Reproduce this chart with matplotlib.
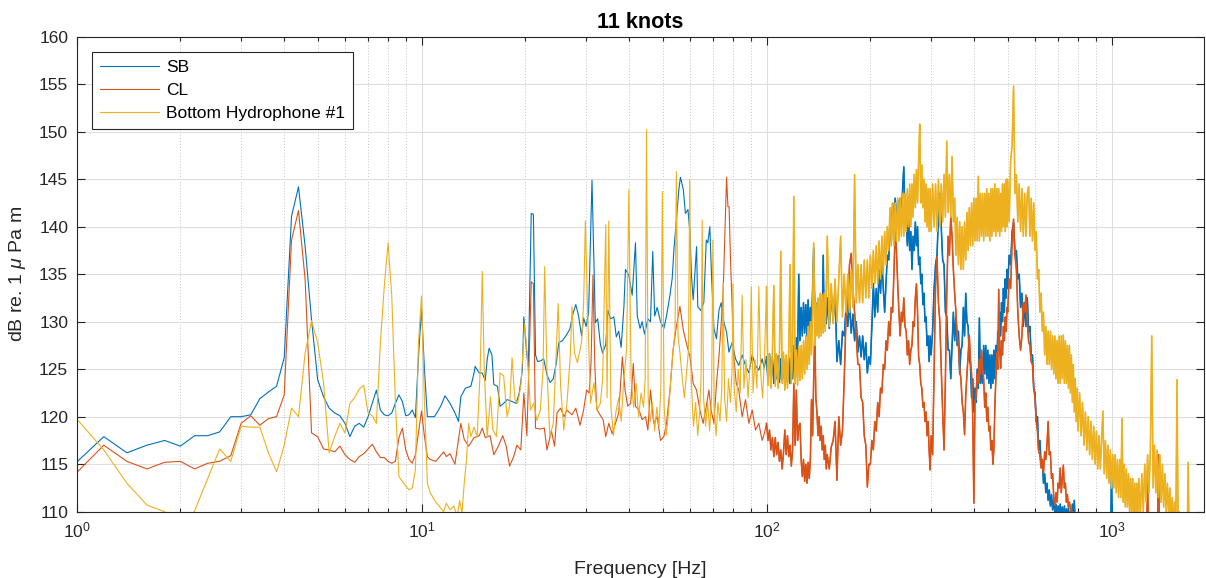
import matplotlib
matplotlib.use("Agg")
import matplotlib.pyplot as plt
from matplotlib.ticker import LogLocator, NullFormatter, MultipleLocator

plt.rcParams["font.family"] = ["Liberation Sans", "DejaVu Sans"]
plt.rcParams["mathtext.fontset"] = "custom"
plt.rcParams["mathtext.rm"] = "Liberation Sans"
plt.rcParams["mathtext.it"] = "Liberation Sans:italic"
plt.rcParams["mathtext.bf"] = "Liberation Sans:bold"

# ---- low band, 0.2 Hz bins (1 - 10.4 Hz)
freq_low = [1.0, 1.2, 1.4, 1.6, 1.8, 2.0, 2.2, 2.4,
            2.6, 2.8, 3.0, 3.2, 3.4, 3.6, 3.8, 4.0,
            4.2, 4.4, 4.6, 4.8, 5.0, 5.2, 5.4, 5.6,
            5.8, 6.0, 6.2, 6.4, 6.6, 6.8, 7.0, 7.2,
            7.4, 7.6, 7.8, 8.0, 8.2, 8.4, 8.6, 8.8,
            9.0, 9.2, 9.4, 9.6, 9.8, 10.0, 10.2, 10.4]
sb_low = [115.2, 117.9, 116.2, 117.0, 117.5, 116.9, 118.0, 118.0,
          118.4, 120.0, 120.0, 120.2, 121.9, 122.6, 123.2, 126.2,
          141.1, 144.2, 137.9, 130.2, 123.9, 122.1, 120.9, 120.4,
          120.1, 119.3, 117.9, 119.0, 119.3, 118.9, 120.0, 121.4,
          122.8, 120.7, 120.2, 120.1, 120.4, 121.4, 122.3, 121.6,
          120.1, 120.2, 120.7, 119.9, 126.3, 131.4, 124.9, 120.0]
cl_low = [114.1, 117.0, 115.3, 114.5, 115.2, 115.3, 114.5, 115.1,
          115.3, 115.9, 119.3, 120.1, 119.1, 119.8, 120.0, 122.3,
          138.6, 141.7, 134.4, 118.3, 117.9, 116.6, 116.5, 116.3,
          116.9, 116.0, 115.5, 115.2, 115.8, 116.1, 116.6, 117.1,
          116.3, 115.7, 115.7, 115.3, 115.1, 115.3, 117.8, 118.8,
          116.5, 115.5, 115.1, 116.0, 118.3, 120.6, 117.9, 115.8]
bh_low = [119.8, 116.5, 113.0, 110.7, 110.0, 107.5, 110.1, 113.5,
          116.6, 115.3, 119.0, 118.9, 118.9, 116.2, 114.2, 117.0,
          120.9, 120.0, 126.7, 130.1, 127.8, 123.6, 116.2, 117.9,
          119.3, 118.3, 121.4, 122.0, 122.9, 123.3, 120.4, 120.1,
          119.3, 127.8, 133.7, 138.3, 132.7, 121.5, 113.7, 113.2,
          112.7, 112.3, 112.5, 114.4, 127.8, 132.7, 121.5, 113.0]

# ---- mid band (10.4 - 100 Hz), (frequency, level)
sb_mid = [(10.9, 120.0), (11.2, 120.7), (11.4, 121.2), (11.7, 122.2), (12.1, 121.4),
          (12.5, 120.4), (12.8, 119.5), (13.0, 122.1), (13.4, 123.0), (13.9, 123.2),
          (14.2, 124.6), (14.3, 125.3), (14.7, 124.6), (15.0, 124.6), (15.3, 123.8),
          (15.5, 126.0), (15.7, 127.2), (16.0, 126.5), (16.2, 123.4), (16.6, 123.2),
          (16.9, 121.1), (17.3, 121.4), (17.7, 121.8), (18.3, 121.6), (18.8, 121.4),
          (19.2, 122.5), (19.6, 124.9), (19.8, 130.5), (20.2, 126.5), (20.4, 125.3),
          (20.8, 141.4), (21.1, 141.3), (21.4, 126.5), (21.7, 125.8), (22.2, 125.9),
          (22.6, 126.1), (23.1, 124.4), (23.6, 123.6), (24.1, 124.0), (24.6, 125.7),
          (25.0, 127.8), (25.6, 128.0), (26.2, 128.5), (26.9, 129.2), (27.5, 130.9),
          (28.0, 131.8), (28.5, 130.7), (29.1, 128.5), (29.5, 130.4), (30.0, 129.5),
          (30.5, 130.9), (31.2, 144.9), (31.9, 129.9), (32.4, 130.3), (33.0, 127.6),
          (33.5, 126.7), (34.2, 127.6), (34.7, 131.2), (35.3, 130.3), (36.1, 130.5),
          (36.7, 128.4), (37.3, 129.0), (37.9, 127.3), (38.6, 131.5), (39.0, 135.5),
          (39.9, 134.9), (40.8, 132.8), (41.7, 138.3), (42.2, 130.6), (43.0, 129.3),
          (43.6, 130.0), (44.3, 128.7), (45.3, 130.3), (46.1, 130.0), (46.8, 137.4),
          (47.4, 130.6), (48.2, 131.5), (49.3, 130.0), (50.4, 129.3), (51.3, 130.6),
          (52.5, 132.8), (53.3, 134.6), (53.9, 137.6), (54.8, 140.7), (55.7, 143.9),
          (56.3, 145.2), (57.4, 143.9), (58.2, 141.4), (59.2, 141.8), (60.0, 139.3),
          (60.6, 134.8), (61.3, 132.3), (62.7, 137.9), (63.2, 131.6), (64.4, 131.2),
          (65.8, 132.0), (66.9, 138.6), (67.6, 138.3), (68.5, 140.0), (69.3, 134.7),
          (70.4, 129.3), (71.6, 128.2), (72.8, 131.2), (73.9, 132.0), (75.2, 130.0),
          (76.6, 128.9), (77.8, 126.8), (79.5, 127.8), (81.3, 126.1), (83.1, 125.4),
          (85.0, 126.5), (86.9, 125.4), (88.9, 124.6), (90.9, 126.5), (92.9, 125.4),
          (95.0, 124.9), (97.1, 126.1), (98.5, 125.1)]

cl_mid = [(10.6, 115.5), (11.0, 115.3), (11.3, 115.8), (11.6, 116.3), (11.8, 115.8),
          (12.1, 116.1), (12.5, 115.0), (13.0, 119.3), (13.3, 117.6), (13.7, 116.9),
          (14.2, 117.8), (14.7, 118.0), (15.0, 118.8), (15.3, 117.8), (15.8, 118.0),
          (16.2, 116.0), (16.7, 116.9), (17.2, 118.0), (17.6, 116.9), (18.0, 114.8),
          (18.5, 115.8), (18.9, 117.0), (19.4, 116.5), (19.8, 122.5), (20.2, 118.0),
          (20.6, 128.5), (20.8, 134.2), (21.1, 134.0), (21.4, 118.8), (22.0, 118.7),
          (22.7, 118.8), (23.1, 116.5), (23.8, 118.5), (24.3, 116.9), (24.7, 120.4),
          (25.3, 120.9), (25.9, 120.0), (26.4, 120.7), (27.3, 120.2), (28.0, 120.9),
          (28.8, 119.1), (29.5, 120.7), (30.1, 122.8), (30.6, 122.5), (31.0, 125.6),
          (31.4, 134.9), (31.8, 125.3), (32.2, 120.8), (32.9, 120.2), (33.6, 119.7),
          (34.2, 117.9), (34.9, 119.3), (35.7, 118.2), (36.5, 119.3), (37.3, 120.4),
          (38.2, 126.3), (38.9, 122.8), (39.6, 121.1), (40.4, 121.4), (41.1, 125.6),
          (41.7, 121.1), (42.7, 120.7), (43.6, 119.7), (44.6, 120.0), (45.3, 118.6),
          (46.1, 122.8), (47.1, 119.3), (48.2, 120.0), (49.3, 117.5), (50.4, 117.9),
          (51.3, 119.3), (52.5, 122.8), (53.6, 127.0), (54.8, 129.5), (56.1, 131.6),
          (57.4, 129.1), (58.6, 127.7), (60.0, 126.3), (61.3, 123.5), (62.7, 122.8),
          (64.1, 120.7), (65.5, 119.3), (66.6, 120.7), (68.1, 122.8), (69.1, 120.7),
          (70.4, 119.3), (71.6, 123.5), (72.8, 126.3), (73.9, 129.8), (74.9, 133.3),
          (75.9, 140.4), (76.6, 145.2), (77.3, 142.1), (77.9, 142.1), (78.6, 136.8),
          (79.5, 131.6), (80.4, 126.3), (81.7, 123.5), (83.1, 122.8), (85.0, 120.0),
          (86.9, 121.8), (88.9, 119.3), (90.9, 120.7), (92.9, 118.6), (95.0, 119.3),
          (97.1, 117.5), (98.5, 118.2)]

bh_mid = [(10.6, 112.0), (11.0, 111.0), (11.3, 110.5), (11.6, 110.0), (11.8, 110.9),
          (12.1, 110.2), (12.4, 110.6), (12.7, 109.5), (12.9, 111.2), (13.1, 109.8),
          (13.3, 113.0), (13.5, 115.5), (13.7, 119.3), (13.9, 117.9), (14.2, 118.9),
          (14.5, 117.9), (14.8, 125.0), (15.0, 135.3), (15.2, 125.0), (15.5, 117.9),
          (15.85, 122.1), (16.1, 118.6), (16.5, 117.9), (16.9, 124.6), (17.3, 124.3),
          (17.7, 120.0), (18.0, 121.1), (18.3, 126.2), (18.65, 121.8), (19.0, 121.4),
          (19.4, 123.2), (19.9, 129.8), (20.25, 126.5), (20.7, 120.7), (21.15, 121.4),
          (21.6, 119.6), (22.1, 120.7), (22.5, 124.9), (22.75, 135.8), (23.1, 124.9),
          (23.55, 117.9), (24.1, 119.3), (24.45, 124.9), (24.9, 131.9), (25.3, 123.2),
          (25.85, 118.6), (26.4, 121.4), (27.0, 126.5), (27.3, 131.6), (27.75, 126.7),
          (28.3, 125.7), (29.1, 127.8), (29.5, 131.9), (29.85, 140.6), (30.3, 131.2),
          (30.9, 121.4), (31.6, 123.6), (32.3, 120.7), (33.0, 121.4), (33.5, 124.0),
          (34.2, 140.2), (34.5, 122.0), (34.9, 140.6), (35.4, 121.0), (36.0, 118.0),
          (36.6, 120.5), (37.3, 122.0), (37.9, 119.5), (38.6, 124.0), (39.3, 127.0),
          (39.9, 143.9), (40.5, 124.0), (41.2, 121.0), (41.9, 123.5), (42.6, 120.0),
          (43.3, 122.5), (44.0, 121.0), (44.5, 124.0), (44.9, 150.2), (45.4, 122.0),
          (46.0, 119.5), (46.7, 121.5), (47.4, 118.5), (48.1, 121.0), (48.8, 119.0),
          (49.4, 123.0), (49.9, 143.7), (50.5, 121.0), (51.2, 118.0), (52.0, 120.5),
          (52.8, 124.0), (53.6, 127.0), (54.3, 129.0), (54.8, 145.8), (55.4, 128.5),
          (56.2, 126.5), (57.0, 124.0), (57.8, 122.0), (58.6, 124.5), (59.4, 127.0),
          (59.9, 145.0), (60.5, 124.0), (61.4, 119.0), (62.3, 121.5), (63.2, 118.0),
          (64.0, 120.5), (64.6, 124.0), (65.1, 140.7), (65.7, 122.0), (66.6, 119.0),
          (67.5, 121.5), (68.4, 118.5), (69.3, 122.0), (69.9, 138.6), (70.5, 121.0),
          (71.4, 118.0), (72.3, 121.5), (73.3, 119.5), (74.2, 123.0), (74.9, 134.1),
          (75.6, 122.0), (76.6, 119.5), (77.6, 124.0), (78.6, 121.5), (79.5, 125.0),
          (79.9, 134.0), (80.6, 123.0), (81.7, 120.5), (82.8, 125.0), (83.9, 122.5),
          (85.0, 132.8), (86.0, 123.0), (87.2, 126.0), (88.4, 122.0), (89.6, 125.5),
          (90.3, 133.7), (91.4, 122.5), (92.6, 126.0), (93.8, 123.0), (95.0, 133.7),
          (96.2, 124.5), (97.4, 122.0), (98.6, 126.0)]

# ---- high band, shared fine frequency grid (100 - 2000 Hz)
freq_high = [
    100, 101, 102, 103, 104, 105, 106, 107, 108, 109,
    110, 111, 112, 113, 114, 115, 116, 117, 118, 119,
    120, 121, 122, 123, 124, 125, 126, 127, 128, 129,
    130, 131, 132, 133, 134, 135, 136, 137, 138, 139,
    140, 141, 142, 143, 144, 145, 146, 147, 148, 149,
    150, 152, 154, 156, 158, 160, 162, 164, 166, 168,
    170, 172, 174, 176, 178, 180, 182, 184, 186, 188,
    190, 192, 194, 196, 198, 200, 202, 204, 206, 208,
    210, 212, 214, 216, 218, 220, 222, 224, 226, 228,
    230, 232, 234, 236, 238, 240, 242, 244, 246, 248,
    250, 252, 254, 256, 258, 260, 262, 264, 266, 268,
    270, 272, 274, 276, 278, 280, 282, 284, 286, 288,
    290, 292, 294, 296, 298,
    300, 303, 306, 309, 312, 315, 318, 321, 324, 327,
    330, 333, 336, 339, 342, 345, 348, 351, 354, 357,
    360, 363, 366, 369, 372, 375, 378, 381, 384, 387,
    390, 393, 396, 399, 402, 405, 408, 411, 414, 417,
    420, 423, 426, 429, 432, 435, 438, 441, 444, 447,
    450, 453, 456, 459, 462, 465, 468, 471, 474, 477,
    480, 483, 486, 489, 492, 495, 498,
    500, 505, 510, 515, 520, 525, 530, 535, 540, 545,
    550, 555, 560, 565, 570, 575, 580, 585, 590, 595,
    600, 605, 610, 615, 620, 625, 630, 635, 640, 645,
    650, 655, 660, 665, 670, 675, 680, 685, 690, 695,
    700, 705, 710, 715, 720, 725, 730, 735, 740, 745,
    750, 755, 760, 765, 770, 775, 780, 785, 790, 795,
    800, 808, 816, 824, 832, 840, 848, 856, 864, 872,
    880, 888, 896, 904, 912, 920, 928, 936, 944, 952,
    960, 968, 976, 984, 992, 1000, 1008, 1016, 1024, 1032,
    1040, 1048, 1056, 1064, 1072, 1080, 1088, 1096, 1104, 1112,
    1120, 1128, 1136, 1144, 1152, 1160, 1168, 1176, 1184, 1192,
    1200, 1212, 1224, 1236, 1248, 1260, 1272, 1284, 1296, 1308,
    1320, 1332, 1344, 1356, 1368, 1380, 1392, 1404, 1416, 1428,
    1440, 1452, 1464, 1476, 1488, 1500, 1512, 1524, 1536, 1548,
    1560, 1572, 1584, 1596, 1608, 1620, 1632, 1644, 1656, 1668,
    1680, 1692,
    1700, 1750, 1800, 1850, 1900, 1950, 2000]

sb_high = [
    126.3, 123.7, 126.6, 123.9, 126.2, 123.5, 126.5, 124.0, 126.4, 123.6,
    126.1, 123.8, 126.0, 123.3, 125.8, 123.6, 126.2, 123.5, 126.0, 124.0,
    127.5, 125.0, 128.3, 126.0, 135.0, 128.0, 131.5, 128.5, 132.0, 128.8,
    131.8, 128.5, 132.3, 129.0, 131.5, 128.8, 133.5, 137.8, 131.5, 129.5,
    132.0, 129.0, 131.5, 129.3, 132.0, 130.0, 137.0, 129.5, 132.5, 129.8,
    132.5, 129.3, 133.0, 130.0, 133.5, 125.8, 128.0, 125.5, 129.0, 128.5,
    131.5, 129.5, 132.0, 128.8, 130.8, 128.0, 130.0, 126.8, 128.5, 126.3,
    128.5, 126.0, 127.8, 124.6, 126.3, 125.5, 129.5, 134.0, 130.5, 133.5,
    131.0, 135.5, 133.0, 136.5, 133.5, 131.0, 134.0, 137.0, 136.5, 139.5,
    138.5, 142.5, 139.5, 143.0, 140.0, 142.8, 140.0, 143.0, 140.5, 144.0,
    146.3, 141.0, 140.5, 138.0, 141.0, 137.5, 139.5, 135.5, 139.0, 137.5,
    140.5, 138.0, 140.0, 136.0, 136.8, 134.0, 135.0, 131.8, 133.0, 130.0,
    130.5, 127.5, 128.5, 125.8, 128.5,
    126.5, 129.0, 133.5, 136.0, 137.0, 141.0, 143.5, 140.0, 136.5, 136.0,
    131.0, 130.5, 127.0, 127.0, 124.0, 127.5, 131.0, 128.0, 130.5, 127.5,
    129.0, 124.5, 127.0, 127.5, 131.5, 128.5, 133.0, 130.0, 129.5, 126.0,
    125.5, 122.0, 124.0, 120.5, 123.0, 121.5, 125.0, 123.0, 130.4, 123.5,
    126.0, 123.5, 127.5, 124.5, 127.5, 124.0, 127.0, 123.5, 126.5, 123.0,
    126.5, 123.5, 127.0, 124.0, 127.5, 125.0, 129.0, 127.0, 131.0, 128.5,
    132.0, 130.0, 133.5, 131.0, 134.5, 132.5, 135.5,
    133.5, 137.0, 136.0, 139.5, 140.4, 137.0, 137.5, 134.5, 135.0, 131.5,
    133.0, 129.5, 132.0, 129.5, 132.5, 129.0, 129.5, 126.5, 126.5, 123.0,
    122.5, 119.5, 120.0, 116.5, 117.5, 115.0, 115.5, 113.0, 114.0, 112.0,
    113.0, 111.2, 112.3, 110.6, 111.8, 110.2, 111.2, 109.8, 110.8, 109.5,
    110.6, 109.4, 110.8, 109.2, 110.5, 109.0, 110.6, 108.8, 110.3, 109.0,
    110.4, 108.7, 110.0, 108.5, 110.8, 109.0, 111.2, 108.5, 109.5, 108.0,
    109.0, 107.5, 108.5, 107.0, 106.5, 105.5, 105.0, 105.0, 105.0, 105.0,
    105.0, 105.0, 105.0, 105.0, 105.0, 105.0, 105.0, 105.0, 105.0, 105.0,
    105.0, 105.0, 105.0, 105.0, 105.0, 114.3, 105.0, 105.0, 105.0, 105.0,
    105.0, 105.0, 105.0, 105.0, 105.0, 105.0, 105.0, 105.0, 105.0, 105.0,
    105.0, 105.0, 105.0, 105.0, 105.0, 105.0, 105.0, 105.0, 105.0, 105.0,
    105.0, 105.0, 105.0, 105.0, 105.0, 105.0, 105.0, 105.0, 105.0, 105.0,
    105.0, 105.0, 105.0, 105.0, 105.0, 105.0, 105.0, 105.0, 105.0, 105.0,
    105.0, 105.0, 105.0, 105.0, 105.0, 105.0, 105.0, 105.0, 105.0, 105.0,
    105.0, 105.0, 105.0, 105.0, 105.0, 105.0, 105.0, 105.0, 105.0, 105.0,
    105.0, 105.0,
    105.0, 105.0, 105.0, 105.0, 105.0, 105.0, 105.0]

cl_high = [
    119.3, 117.5, 118.6, 116.5, 117.8, 115.8, 117.8, 116.0, 117.3, 115.3,
    116.5, 114.5, 116.2, 118.6, 116.0, 118.0, 115.8, 117.0, 114.8, 116.5,
    123.5, 117.0, 122.8, 117.5, 119.0, 119.3, 115.5, 113.7, 115.5, 113.2,
    115.0, 113.0, 115.2, 113.5, 115.5, 121.8, 118.0, 124.0, 129.2, 122.0,
    120.5, 118.0, 120.0, 117.5, 119.0, 116.5, 118.0, 115.5, 117.0, 114.5,
    116.0, 114.5, 116.8, 117.5, 119.5, 113.3, 120.0, 117.0, 118.5, 124.0,
    130.5, 131.5, 136.0, 137.2, 133.5, 131.0, 128.5, 125.5, 125.5, 122.0,
    121.5, 118.0, 117.0, 112.6, 115.0, 115.0, 117.5, 116.5, 119.5, 118.5,
    121.5, 120.0, 123.0, 122.5, 125.5, 125.0, 128.0, 127.0, 130.0, 128.5,
    131.5, 131.0, 135.0, 139.6, 137.5, 134.0, 131.0, 128.5, 131.0, 130.0,
    132.5, 129.5, 129.0, 126.5, 128.0, 125.5, 127.0, 127.5, 130.0, 129.5,
    132.5, 134.0, 131.0, 126.3, 125.5, 123.5, 123.0, 121.0, 121.5, 119.5,
    120.5, 118.0, 119.5, 116.5, 114.4,
    118.0, 116.0, 124.9, 133.7, 136.8, 132.0, 130.0, 125.0, 120.5, 116.5,
    124.0, 133.0, 139.0, 137.0, 141.1, 139.0, 135.5, 133.0, 131.0, 128.5,
    127.5, 125.0, 124.0, 121.5, 120.5, 118.1, 122.3, 124.5, 126.5, 128.6,
    126.0, 124.5, 120.0, 110.9, 121.6, 122.0, 124.5, 123.5, 126.0, 124.5,
    127.0, 125.0, 124.0, 121.0, 122.5, 119.5, 121.0, 118.5, 119.0, 116.5,
    117.5, 115.0, 116.5, 121.0, 124.0, 126.8, 125.0, 133.4, 127.0, 125.1,
    128.0, 126.5, 129.5, 128.0, 130.5, 129.0, 131.5,
    131.0, 134.5, 133.5, 138.4, 140.8, 137.0, 135.5, 131.0, 128.5, 127.0,
    128.5, 132.0, 131.0, 132.8, 130.0, 127.9, 127.5, 125.8, 125.5, 123.0,
    122.0, 119.5, 118.5, 116.3, 116.0, 114.6, 115.5, 114.0, 116.3, 115.5,
    117.0, 119.5, 116.0, 116.3, 113.5, 114.0, 111.5, 110.7, 112.0, 111.0,
    113.0, 112.5, 114.6, 112.0, 113.5, 114.9, 112.5, 113.0, 111.0, 111.8,
    110.5, 111.0, 110.3, 109.5, 110.0, 109.8, 108.5, 109.5, 108.0, 108.5,
    107.5, 106.5, 105.5, 105.0, 105.0, 105.0, 105.0, 105.0, 105.0, 105.0,
    105.0, 105.0, 105.0, 105.0, 105.0, 105.0, 105.0, 105.0, 105.0, 105.0,
    105.0, 105.0, 105.0, 105.0, 105.0, 105.0, 105.0, 105.0, 105.0, 105.0,
    105.0, 105.0, 105.0, 105.0, 105.0, 105.0, 105.0, 105.0, 105.0, 105.0,
    105.0, 105.0, 105.0, 105.0, 105.0, 105.0, 105.0, 105.0, 105.0, 105.0,
    105.0, 105.0, 105.0, 105.0, 105.0, 105.0, 113.4, 105.0, 105.0, 105.0,
    105.0, 105.0, 105.0, 105.0, 116.0, 105.0, 105.0, 105.0, 105.0, 105.0,
    105.0, 105.0, 105.0, 105.0, 105.0, 105.0, 105.0, 105.0, 105.0, 105.0,
    105.0, 105.0, 105.0, 105.0, 105.0, 105.0, 105.0, 105.0, 105.0, 105.0,
    105.0, 105.0,
    105.0, 105.0, 105.0, 105.0, 105.0, 105.0, 105.0]

bh_high = [
    133.7, 123.3, 126.5, 123.0, 126.8, 133.8, 123.2, 126.6, 123.0, 126.5,
    137.4, 123.5, 126.8, 122.8, 126.5, 123.0, 126.8, 136.0, 123.5, 127.0,
    143.2, 123.5, 127.0, 123.3, 127.5, 123.8, 127.5, 124.0, 128.0, 124.5,
    128.5, 125.0, 129.5, 125.5, 130.0, 126.5, 131.0, 138.3, 127.5, 132.0,
    128.5, 132.5, 128.3, 133.0, 128.5, 132.8, 128.8, 133.0, 129.0, 133.5,
    139.0, 129.5, 134.0, 129.8, 134.5, 130.0, 134.5, 139.0, 130.5, 135.0,
    131.0, 135.0, 131.0, 135.5, 131.5, 145.5, 132.0, 136.0, 132.0, 136.0,
    132.0, 136.5, 132.5, 136.5, 132.5, 137.0, 133.5, 137.5, 134.0, 138.0,
    134.0, 138.5, 134.5, 139.0, 135.0, 139.5, 136.0, 140.0, 137.5, 142.0,
    138.0, 142.5, 138.0, 142.5, 138.5, 143.0, 138.5, 143.0, 139.0, 143.5,
    139.0, 143.5, 139.5, 144.0, 140.0, 144.5, 140.0, 144.5, 141.0, 145.5,
    142.0, 146.0, 142.5, 147.0, 150.8, 142.5, 146.5, 142.0, 145.0, 140.5,
    144.5, 140.0, 144.0, 139.5, 144.0,
    139.5, 144.5, 140.0, 144.5, 139.5, 145.0, 140.0, 144.5, 140.5, 145.5,
    141.0, 149.0, 141.5, 145.5, 141.0, 147.4, 140.5, 143.0, 137.0, 141.0,
    136.0, 140.5, 135.5, 140.0, 135.5, 140.5, 136.5, 141.5, 137.5, 142.0,
    138.0, 142.5, 138.0, 143.0, 138.5, 143.0, 138.5, 145.3, 138.5, 143.5,
    139.0, 143.5, 138.5, 143.5, 139.0, 144.0, 139.0, 143.5, 138.5, 144.0,
    139.0, 144.0, 139.5, 144.5, 139.0, 144.0, 139.5, 144.0, 139.0, 143.5,
    139.5, 144.5, 140.0, 144.5, 139.5, 145.0, 140.0,
    145.0, 140.5, 147.0, 148.5, 154.8, 143.5, 145.5, 140.5, 144.5, 139.5,
    144.0, 139.0, 143.5, 139.0, 143.5, 144.2, 139.0, 143.0, 138.5, 142.5,
    137.5, 139.5, 134.5, 135.5, 131.0, 133.0, 129.0, 131.0, 126.5, 129.5,
    125.5, 129.0, 125.5, 129.0, 125.0, 128.5, 124.5, 128.5, 124.0, 128.0,
    123.5, 128.5, 123.5, 128.5, 124.0, 128.6, 123.5, 128.0, 123.5, 127.5,
    123.0, 127.5, 122.5, 126.5, 121.5, 125.5, 120.5, 124.0, 119.5, 123.0,
    118.5, 122.5, 118.0, 121.5, 117.0, 120.5, 116.5, 120.0, 116.0, 119.5,
    115.5, 119.0, 115.0, 118.5, 114.5, 118.0, 114.5, 117.5, 120.6, 114.0,
    117.5, 113.5, 117.0, 113.0, 116.5, 112.5, 116.0, 112.5, 116.0, 112.0,
    115.5, 111.5, 115.5, 111.5, 119.8, 111.0, 115.0, 110.5, 114.5, 110.5,
    114.0, 110.0, 113.5, 109.5, 113.5, 109.5, 113.0, 109.0, 113.0, 109.5,
    113.5, 109.5, 114.0, 110.0, 115.0, 111.0, 116.0, 112.0, 116.5, 128.5,
    112.5, 117.0, 112.0, 116.5, 111.5, 116.0, 111.0, 115.0, 110.5, 114.0,
    110.0, 113.0, 109.5, 112.5, 109.0, 111.5, 108.5, 111.0, 108.5, 123.9,
    108.0, 110.0, 107.5, 109.5, 107.0, 109.0, 107.0, 108.5, 106.5, 115.2,
    106.0, 105.0,
    105.0, 105.0, 105.0, 105.0, 105.0, 105.0, 105.0]

series_names = ["SB", "CL", "Bottom Hydrophone #1"]
series_colors = ["#0072BD", "#D95319", "#EDB120"]


def build(low, mid, high):
    f = list(freq_low) + [p[0] for p in mid] + list(freq_high)
    v = list(low) + [p[1] for p in mid] + list(high)
    return f, v


curves = [build(sb_low, sb_mid, sb_high),
          build(cl_low, cl_mid, cl_high),
          build(bh_low, bh_mid, bh_high)]
high_parts = [sb_high, cl_high, bh_high]

W, H = 1206, 578
fig = plt.figure(figsize=(W / 100, H / 100), dpi=100)
x0, x1, y_top, y_bot = 76.5, 1203.7, 36.7, 511.7
ax = fig.add_axes([x0 / W, (H - y_bot) / H, (x1 - x0) / W, (y_bot - y_top) / H])

for (f, v), hv, name, col in zip(curves, high_parts, series_names, series_colors):
    ax.plot(f, v, color=col, lw=0.8, label=name)
    # dense noise above 100 Hz reads as a thicker trace in the original
    ax.plot(freq_high, hv, color=col, lw=1.15)

ax.set_xscale("log")
ax.set_xlim(1, 1850)
ax.set_ylim(110, 160)
ax.yaxis.set_major_locator(MultipleLocator(5))
ax.xaxis.set_major_locator(LogLocator(base=10, numticks=12))
ax.xaxis.set_minor_locator(LogLocator(base=10, subs=[2, 3, 4, 5, 6, 7, 8, 9], numticks=12))
ax.xaxis.set_minor_formatter(NullFormatter())

ax.set_axisbelow(True)
ax.grid(which="major", color="#dedede", lw=0.8)
ax.grid(which="minor", axis="x", color="#c4c4c4", ls=(0, (1, 2)), lw=0.7)

dark = "#262626"
for s in ax.spines.values():
    s.set_color(dark)
    s.set_linewidth(0.8)
ax.tick_params(which="both", direction="in", top=True, right=True,
               colors=dark, labelsize=12.5, width=0.8)
ax.tick_params(which="major", length=6, pad=6)
ax.tick_params(which="minor", length=3)

ax.set_title("11 knots", fontsize=15.5, fontweight="bold", color="black", pad=6)
ax.set_xlabel("Frequency [Hz]", fontsize=14, color=dark, labelpad=15)
ax.set_ylabel(r"dB re. 1 $\mu$ Pa m", fontsize=14, color=dark, labelpad=8)

leg = ax.legend(loc="upper left", bbox_to_anchor=(0.0137, 0.967), fontsize=12.5,
                frameon=True, fancybox=False, framealpha=1, edgecolor=dark,
                handlelength=3.4, handletextpad=0.4, labelspacing=0.45,
                borderpad=0.45, borderaxespad=0)
leg.get_frame().set_linewidth(0.8)
leg.set_zorder(10)

fig.savefig("out.png", dpi=100)
